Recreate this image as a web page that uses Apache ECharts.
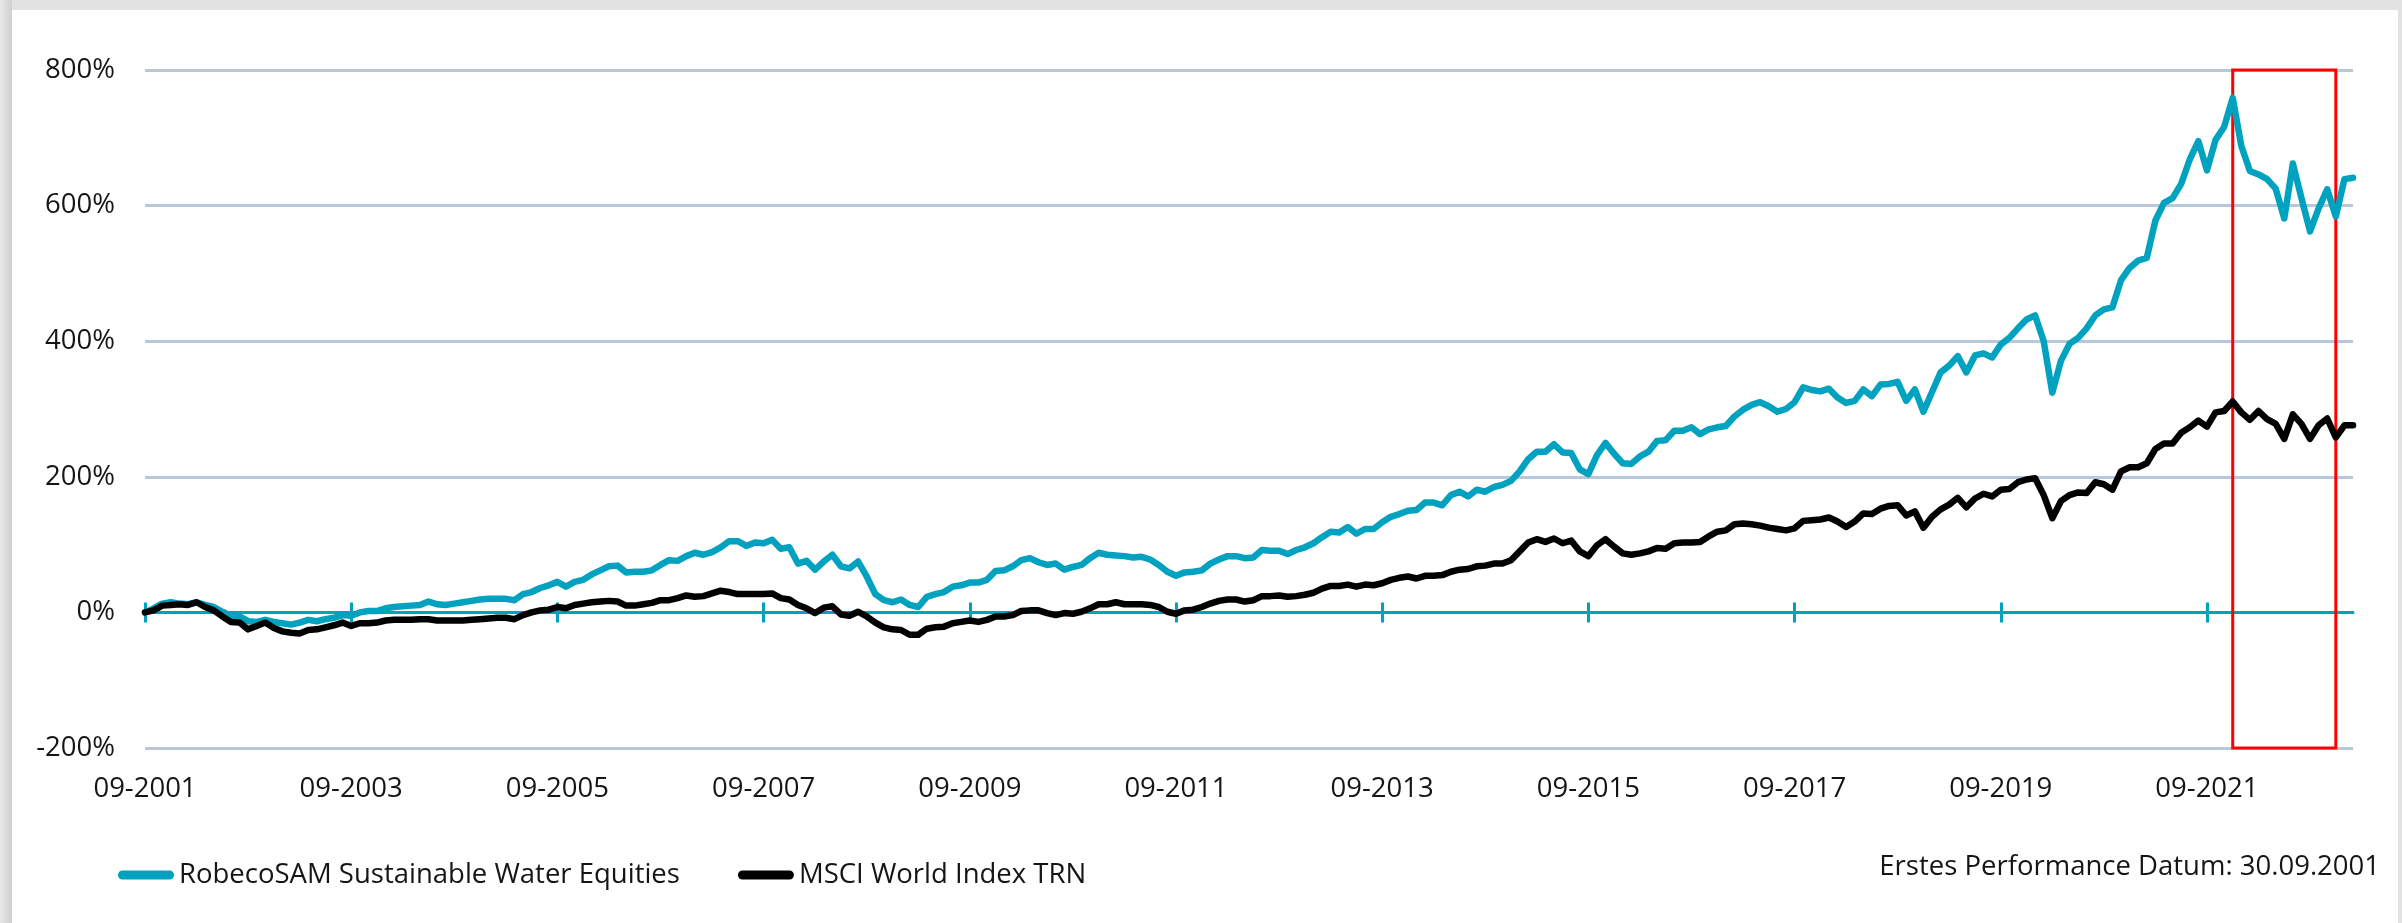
<!DOCTYPE html>
<html>
<head>
<meta charset="utf-8">
<title>RobecoSAM Sustainable Water Equities</title>
<script src="https://cdn.jsdelivr.net/npm/echarts@6/dist/echarts.min.js"></script>
<style>
    html, body { margin: 0; padding: 0; background: #ffffff; overflow: hidden; }
    #chart { position: absolute; left: 0; top: 0; width: 2402px; height: 923px; }
    .frame-top { position: absolute; left: 0; top: 0; width: 2402px; height: 10px; background: #e2e2e2; z-index: 5; }
    .frame-left { position: absolute; left: 0; top: 0; width: 12px; height: 923px; background: linear-gradient(to right, #e8e8e8, #cfcfcf); z-index: 5; }
    .frame-right { position: absolute; right: 0; top: 0; width: 4px; height: 923px; background: #e2e2e2; z-index: 5; }
</style>
</head>
<body>
<div id="chart"></div>
<div class="frame-top"></div>
<div class="frame-left"></div>
<div class="frame-right"></div>
<script>
// Monatswerte ab 30.09.2001, kumulierte Performance in %
var seriesNames = ['RobecoSAM Sustainable Water Equities', 'MSCI World Index TRN'];

var waterEquities = [
    0, 6, 13, 15, 13, 12, 15, 11, 8, 1,
    -5, -6, -13, -14, -11, -14, -16, -18, -15, -11,
    -13, -10, -8, -4, -5, 0, 2, 2, 6, 8,
    9, 10, 11, 16, 12, 11, 13, 15, 17, 19,
    20, 20, 20, 18, 27, 30, 36, 40, 45, 38,
    45, 48, 56, 62, 68, 69, 59, 60, 60, 62,
    70, 77, 76, 83, 88, 85, 89, 96, 105, 105,
    98, 103, 102, 107, 94, 96, 72, 76, 63, 75,
    85, 68, 65, 75, 53, 27, 18, 15, 19, 11,
    8, 23, 27, 30, 38, 40, 44, 44, 48, 61,
    62, 68, 77, 80, 74, 70, 72, 63, 67, 70,
    80, 88, 85, 84, 83, 81, 82, 78, 70, 60,
    54, 59, 60, 62, 72, 78, 83, 83, 80, 81,
    92, 91, 91, 86, 92, 96, 102, 111, 119, 118,
    126, 116, 123, 123, 133, 141, 145, 150, 151, 162,
    162, 158, 173, 178, 171, 181, 178, 185, 188, 194,
    208, 226, 237, 237, 248, 236, 235, 211, 204, 232,
    250, 234, 220, 219, 230, 237, 253, 254, 268, 268,
    273, 263, 270, 273, 275, 289, 299, 306, 310, 304,
    296, 300, 310, 332, 328, 326, 330, 317, 309, 312,
    329, 319, 336, 337, 340, 312, 329, 296, 325, 354,
    364, 378, 354, 379, 382, 376, 395, 405, 419, 432,
    438, 400, 324, 371, 396, 405, 419, 438, 447, 450,
    490, 508, 519, 523, 578, 604, 611, 632, 668, 695,
    652, 697, 716, 759, 688, 651, 646, 639, 625, 581,
    662, 611, 562, 596, 624, 584, 639, 641
];

var msciWorld = [
    0, 3, 10, 11, 12, 11, 15, 8, 3, -6,
    -14, -15, -25, -20, -15, -23, -28, -30, -31, -26,
    -25, -22, -19, -15, -20, -16, -16, -15, -12, -11,
    -11, -11, -10, -10, -12, -12, -12, -12, -11, -10,
    -9, -8, -8, -10, -4, 0, 3, 4, 8, 6,
    11, 13, 15, 16, 17, 16, 10, 10, 12, 14,
    18, 18, 21, 25, 23, 24, 28, 32, 30, 27,
    27, 27, 27, 28, 21, 19, 11, 6, -1, 7,
    9, -3, -5, 1, -6, -15, -22, -25, -26, -33,
    -33, -24, -22, -21, -16, -14, -12, -14, -11, -6,
    -6, -4, 2, 3, 3, -1, -4, -1, -2, 1,
    6, 12, 12, 15, 12, 12, 12, 11, 8, 1,
    -2, 3, 4, 8, 13, 17, 19, 19, 16, 18,
    24, 24, 25, 23, 24, 26, 29, 35, 39, 39,
    41, 38, 41, 40, 43, 48, 51, 53, 50, 54,
    54, 55, 60, 63, 64, 68, 69, 72, 72, 77,
    90, 103, 108, 104, 109, 102, 106, 90, 83, 99,
    108, 97, 87, 85, 87, 90, 95, 94, 102, 103,
    103, 104, 112, 119, 121, 130, 131, 130, 128, 125,
    123, 121, 124, 135, 136, 137, 140, 134, 126, 134,
    146, 145, 153, 157, 158, 143, 149, 125, 141, 152,
    159, 169, 155, 168, 175, 171, 181, 182, 192, 196,
    198, 173, 139, 164, 173, 177, 176, 192, 189, 181,
    208, 214, 214, 220, 241, 249, 249, 265, 273, 283,
    274, 295, 297, 311, 295, 284, 297, 285, 278, 256,
    292, 278, 256, 276, 286, 258, 276, 276
];

// Y-Achse
var yTicks = [-200, 0, 200, 400, 600, 800];

// Kategorien: Monatsenden 09-2001 ... (MM-JJJJ)
var months = [];
for (var i = 0; i < waterEquities.length; i++) {
    var m = 8 + i;
    var mm = (m % 12) + 1;
    var yy = 2001 + Math.floor(m / 12);
    months.push((mm < 10 ? '0' + mm : '' + mm) + '-' + yy);
}

// markierter Zeitraum (rotes Rechteck)
var highlightFrom = '12-2021';
var highlightTo = '12-2022';

var FONT = '"Open Sans", "Noto Sans", sans-serif';
var FONT_SIZE = 27.5;
var TEAL = '#00a2bf';
var TEXT = '#151515';

var capsule = 'path://M4.5,0 L51.5,0 A4.5,4.5 0 0 1 51.5,9 L4.5,9 A4.5,4.5 0 0 1 4.5,0 Z';

var myChart = echarts.init(document.getElementById('chart'));

var option = {
    backgroundColor: '#ffffff',
    animation: false,
    textStyle: { fontFamily: FONT },
    grid: {
        left: 145,
        top: 70,
        width: 2208,
        height: 678
    },
    legend: {
        left: 113,
        top: 856,
        itemWidth: 56,
        itemHeight: 9,
        itemGap: 58,
        icon: capsule,
        textStyle: { fontFamily: FONT, fontSize: FONT_SIZE, color: TEXT },
        data: seriesNames
    },
    graphic: [{
        type: 'text',
        right: 22,
        top: 853,
        style: {
            text: 'Erstes Performance Datum: 30.09.2001',
            font: FONT_SIZE + 'px ' + FONT,
            fill: TEXT
        }
    }],
    xAxis: [
        {   // Beschriftung unten
            type: 'category',
            boundaryGap: false,
            data: months,
            axisLine: { show: false, onZero: false },
            axisTick: { show: false },
            splitLine: { show: false },
            axisLabel: {
                interval: 23,
                margin: 27,
                fontSize: FONT_SIZE,
                color: TEXT,
                fontFamily: FONT
            }
        },
        {   // Nulllinie, Striche nach unten
            type: 'category',
            boundaryGap: false,
            data: months,
            position: 'bottom',
            axisLine: { show: true, onZero: true, onZeroAxisIndex: 0, lineStyle: { color: TEAL, width: 3 } },
            axisTick: { show: true, interval: 23, length: 10, lineStyle: { color: TEAL, width: 3 } },
            axisLabel: { show: false },
            splitLine: { show: false }
        },
        {   // Striche nach oben
            type: 'category',
            boundaryGap: false,
            data: months,
            position: 'bottom',
            axisLine: { show: false, onZero: true, onZeroAxisIndex: 0 },
            axisTick: { show: true, inside: true, interval: 23, length: 10, lineStyle: { color: TEAL, width: 3 } },
            axisLabel: { show: false },
            splitLine: { show: false }
        }
    ],
    yAxis: {
        type: 'value',
        min: yTicks[0],
        max: yTicks[yTicks.length - 1],
        interval: 200,
        axisLine: { show: false },
        axisTick: { show: false },
        splitLine: { show: true, lineStyle: { color: '#b8c8d9', width: 3 } },
        axisLabel: {
            margin: 30,
            fontSize: FONT_SIZE,
            color: TEXT,
            fontFamily: FONT,
            formatter: '{value}%'
        }
    },
    series: [
        {
            name: seriesNames[0],
            type: 'line',
            data: waterEquities,
            symbol: 'none',
            smooth: false,
            itemStyle: { color: TEAL },
            lineStyle: { color: TEAL, width: 6.5, cap: 'round', join: 'round' },
            z: 3
        },
        {
            name: seriesNames[1],
            type: 'line',
            data: msciWorld,
            symbol: 'none',
            smooth: false,
            itemStyle: { color: '#000000' },
            lineStyle: { color: '#000000', width: 6.5, cap: 'round', join: 'round' },
            z: 4,
            markArea: {
                silent: true,
                itemStyle: { color: 'rgba(0,0,0,0)', borderColor: '#ff0000', borderWidth: 3 },
                data: [[
                    { xAxis: highlightFrom, yAxis: yTicks[yTicks.length - 1] },
                    { xAxis: highlightTo, yAxis: yTicks[0] }
                ]]
            }
        }
    ]
};

myChart.setOption(option);
</script>
</body>
</html>
